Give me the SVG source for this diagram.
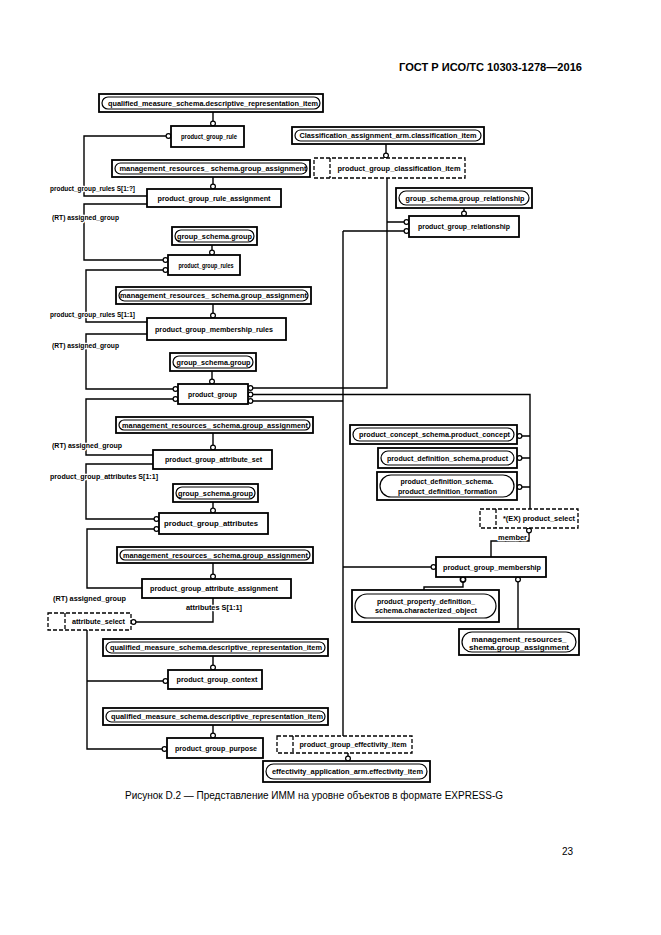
<svg xmlns="http://www.w3.org/2000/svg" width="661" height="935" viewBox="0 0 661 935">
<style>
.bg{fill:#fff}
.e{fill:#fff;stroke:#000;stroke-width:1.8}
.p{fill:none;stroke:#000;stroke-width:1.2}
.s{fill:#fff;stroke:#000;stroke-width:1.3;stroke-dasharray:4 2}
.sd{fill:none;stroke:#000;stroke-width:1.3;stroke-dasharray:4 2}
.c{fill:none;stroke:#000;stroke-width:1.4}
.o{fill:#fff;stroke:#000;stroke-width:1.2}
text{font-family:"Liberation Sans",Arial,sans-serif;font-size:7px;font-weight:bold;fill:#000}
.m{text-anchor:middle}
.l{stroke:#fff;stroke-width:2.5;paint-order:stroke;stroke-linejoin:round}
.h{font-size:11px;text-anchor:end}
.cap{font-size:10px;font-weight:normal}
</style>
<rect class="bg" width="661" height="935"/>
<text class="h" x="582" y="71" textLength="183" lengthAdjust="spacingAndGlyphs">ГОСТ Р ИСО/ТС 10303-1278—2016</text>

<g id="connectors">
<path class="c" d="M213,112V121M386,144V153M213,177V184M464,208V211M212,245V250M213,304V313M212,371V379M213,433V445M213,502V508M213,563V574M213,656V665M213,725V733M348,753V756"/>
<path class="c" d="M166,136H84V196H147M147,204H84V260H163M163,270H86V322H147M147,334H86V389H173M173,399H86V455H153M153,464H86V519H154M154,529H87V588H142M213,598V622H136M87,630V749H162M87,681H163"/>
<path class="c" d="M253,388H387V178M387,222H404M253,394.5H530V509M253,401H343M343,231V736M343,231H404M343,567H431M522,436H530M522,458H530M522,487H530M529,533V541H491V557M463,582V587H424V590M518,582V629"/>
<g>
<circle class="o" cx="213" cy="123.5" r="2.4"/>
<circle class="o" cx="386" cy="155.5" r="2.4"/>
<circle class="o" cx="213" cy="186.5" r="2.4"/>
<circle class="o" cx="464" cy="213.5" r="2.4"/>
<circle class="o" cx="212" cy="252.5" r="2.4"/>
<circle class="o" cx="213" cy="315.5" r="2.4"/>
<circle class="o" cx="212" cy="381.5" r="2.4"/>
<circle class="o" cx="213" cy="447.5" r="2.4"/>
<circle class="o" cx="213" cy="510.5" r="2.4"/>
<circle class="o" cx="213" cy="576.5" r="2.4"/>
<circle class="o" cx="213" cy="667.5" r="2.4"/>
<circle class="o" cx="213" cy="735.5" r="2.4"/>
<circle class="o" cx="348" cy="758.5" r="2.4"/>
<circle class="o" cx="168.5" cy="136" r="2.4"/>
<circle class="o" cx="165.5" cy="260" r="2.4"/>
<circle class="o" cx="165.5" cy="270" r="2.4"/>
<circle class="o" cx="175.5" cy="389" r="2.4"/>
<circle class="o" cx="175.5" cy="399" r="2.4"/>
<circle class="o" cx="156.5" cy="519" r="2.4"/>
<circle class="o" cx="156.5" cy="529" r="2.4"/>
<circle class="o" cx="133.5" cy="622" r="2.4"/>
<circle class="o" cx="164.5" cy="749" r="2.4"/>
<circle class="o" cx="165.5" cy="681" r="2.4"/>
<circle class="o" cx="250.5" cy="388" r="2.3"/>
<circle class="o" cx="250.5" cy="394.5" r="2.3"/>
<circle class="o" cx="250.5" cy="401" r="2.3"/>
<circle class="o" cx="406.5" cy="222" r="2.4"/>
<circle class="o" cx="406.5" cy="231" r="2.4"/>
<circle class="o" cx="433.5" cy="567" r="2.4"/>
<circle class="o" cx="519.5" cy="436" r="2.4"/>
<circle class="o" cx="519.5" cy="458" r="2.4"/>
<circle class="o" cx="519.5" cy="487" r="2.4"/>
<circle class="o" cx="529" cy="530.5" r="2.4"/>
<circle class="o" cx="463" cy="579.5" r="2.6" style="stroke-width:1.6"/>
<circle class="o" cx="518" cy="579.5" r="2.4"/>
</g>
<text class="l" x="50" y="191" textLength="85" lengthAdjust="spacingAndGlyphs">product_group_rules S[1:?]</text>
<text class="l" x="52" y="220" textLength="67" lengthAdjust="spacingAndGlyphs">(RT) assigned_group</text>
<text class="l" x="50" y="316.5" textLength="85" lengthAdjust="spacingAndGlyphs">product_group_rules S[1:1]</text>
<text class="l" x="52" y="348" textLength="67" lengthAdjust="spacingAndGlyphs">(RT) assigned_group</text>
<text class="l" x="52" y="447.5" textLength="70" lengthAdjust="spacingAndGlyphs">(RT) assigned_group</text>
<text class="l" x="50" y="478.5" textLength="108" lengthAdjust="spacingAndGlyphs">product_group_attributes S[1:1]</text>
<text class="l" x="53" y="600.5" textLength="73" lengthAdjust="spacingAndGlyphs">(RT) assigned_group</text>
<text class="l" x="186" y="609.5" textLength="56" lengthAdjust="spacingAndGlyphs">attributes S[1:1]</text>
<text class="l" x="498" y="539.5" textLength="29" lengthAdjust="spacingAndGlyphs">member</text>
</g>

<g id="qmsdri_1"><rect class="e" x="99" y="94" width="224" height="18"/><rect class="p" x="102" y="97" width="218" height="12" rx="6"/><text class="m" x="213" y="105.5" textLength="210" lengthAdjust="spacingAndGlyphs">qualified_measure_schema.descriptive_representation_item</text></g>
<g id="product_group_rule"><rect class="e" x="171" y="126" width="73" height="21"/><text class="m" x="209" y="139" textLength="56" lengthAdjust="spacingAndGlyphs">product_group_rule</text></g>
<g id="classification_item"><rect class="e" x="292" y="127" width="192" height="17"/><rect class="p" x="295" y="130" width="186" height="11" rx="5.5"/><text class="m" x="388" y="138" textLength="177" lengthAdjust="spacingAndGlyphs">Classification_assignment_arm.classification_item</text></g>
<g id="product_group_classification_item"><rect class="s" x="314" y="158" width="151" height="20"/><path class="sd" d="M330,158V178"/><text class="m" x="399" y="170.5" textLength="123" lengthAdjust="spacingAndGlyphs">product_group_classification_item</text></g>
<g id="mgmt_1"><rect class="e" x="112" y="160" width="198" height="17"/><rect class="p" x="115" y="163" width="192" height="11" rx="5.5"/><text class="m" x="213" y="171" textLength="187" lengthAdjust="spacingAndGlyphs">management_resources_ schema.group_assignment</text></g>
<g id="product_group_rule_assignment"><rect class="e" x="147" y="189" width="134" height="18"/><text class="m" x="214" y="200.5" textLength="113" lengthAdjust="spacingAndGlyphs">product_group_rule_assignment</text></g>
<g id="group_relationship"><rect class="e" x="396" y="188" width="136" height="20"/><rect class="p" x="399" y="191" width="130" height="14" rx="7"/><text class="m" x="465" y="200.5" textLength="119" lengthAdjust="spacingAndGlyphs">group_schema.group_relationship</text></g>
<g id="product_group_relationship"><rect class="e" x="409" y="216" width="110" height="21"/><text class="m" x="464" y="229" textLength="92" lengthAdjust="spacingAndGlyphs">product_group_relationship</text></g>
<g id="group_1"><rect class="e" x="172" y="227" width="85" height="18"/><rect class="p" x="175" y="230" width="79" height="12" rx="6"/><text class="m" x="214.5" y="238.5" textLength="75" lengthAdjust="spacingAndGlyphs">group_schema.group</text></g>
<g id="product_group_rules"><rect class="e" x="168" y="255" width="72" height="20"/><text class="m" x="206" y="267.5" textLength="55" lengthAdjust="spacingAndGlyphs">product_group_rules</text></g>
<g id="mgmt_2"><rect class="e" x="116" y="287" width="195" height="17"/><rect class="p" x="119" y="290" width="189" height="11" rx="5.5"/><text class="m" x="213.5" y="298" textLength="187" lengthAdjust="spacingAndGlyphs">management_resources_ schema.group_assignment</text></g>
<g id="product_group_membership_rules"><rect class="e" x="147" y="318" width="139" height="22"/><text class="m" x="214" y="331.5" textLength="118" lengthAdjust="spacingAndGlyphs">product_group_membership_rules</text></g>
<g id="group_2"><rect class="e" x="170" y="353" width="86" height="18"/><rect class="p" x="173" y="356" width="80" height="12" rx="6"/><text class="m" x="213.5" y="364.5" textLength="74" lengthAdjust="spacingAndGlyphs">group_schema.group</text></g>
<g id="product_group"><rect class="e" x="178" y="384" width="70" height="20"/><text class="m" x="212.5" y="396.5" textLength="49" lengthAdjust="spacingAndGlyphs">product_group</text></g>
<g id="mgmt_3"><rect class="e" x="116" y="417" width="197" height="16"/><rect class="p" x="119" y="420" width="191" height="10" rx="5"/><text class="m" x="215" y="427.5" textLength="186" lengthAdjust="spacingAndGlyphs">management_resources_ schema.group_assignment</text></g>
<g id="product_group_attribute_set"><rect class="e" x="153" y="450" width="119" height="19"/><text class="m" x="213.5" y="462" textLength="97" lengthAdjust="spacingAndGlyphs">product_group_attribute_set</text></g>
<g id="group_3"><rect class="e" x="173" y="484" width="85" height="18"/><rect class="p" x="176" y="487" width="79" height="12" rx="6"/><text class="m" x="215.5" y="495.5" textLength="75" lengthAdjust="spacingAndGlyphs">group_schema.group</text></g>
<g id="product_group_attributes"><rect class="e" x="159" y="513" width="109" height="21"/><text class="m" x="211" y="526" textLength="94" lengthAdjust="spacingAndGlyphs">product_group_attributes</text></g>
<g id="mgmt_4"><rect class="e" x="117" y="547" width="196" height="16"/><rect class="p" x="120" y="550" width="190" height="10" rx="5"/><text class="m" x="215.5" y="557.5" textLength="185" lengthAdjust="spacingAndGlyphs">management_resources_ schema.group_assignment</text></g>
<g id="product_group_attribute_assignment"><rect class="e" x="142" y="579" width="149" height="19"/><text class="m" x="214" y="591" textLength="128" lengthAdjust="spacingAndGlyphs">product_group_attribute_assignment</text></g>
<g id="attribute_select"><rect class="s" x="48" y="613" width="83" height="17"/><path class="sd" d="M65,613V630"/><text class="m" x="98.5" y="624" textLength="53" lengthAdjust="spacingAndGlyphs">attribute_select</text></g>
<g id="qmsdri_2"><rect class="e" x="103" y="639" width="225" height="17"/><rect class="p" x="106" y="642" width="219" height="11" rx="5.5"/><text class="m" x="216" y="650" textLength="212" lengthAdjust="spacingAndGlyphs">qualified_measure_schema.descriptive_representation_item</text></g>
<g id="product_group_context"><rect class="e" x="168" y="670" width="94" height="19"/><text class="m" x="217" y="682" textLength="81" lengthAdjust="spacingAndGlyphs">product_group_context</text></g>
<g id="qmsdri_3"><rect class="e" x="103" y="708" width="225" height="17"/><rect class="p" x="106" y="711" width="219" height="11" rx="5.5"/><text class="m" x="217" y="719" textLength="212" lengthAdjust="spacingAndGlyphs">qualified_measure_schema.descriptive_representation_item</text></g>
<g id="product_group_purpose"><rect class="e" x="167" y="738" width="96" height="20"/><text class="m" x="216" y="750.5" textLength="82" lengthAdjust="spacingAndGlyphs">product_group_purpose</text></g>
<g id="product_group_effectivity_item"><rect class="s" x="277" y="736" width="135" height="17"/><path class="sd" d="M293,736V753"/><text class="m" x="353" y="747" textLength="107" lengthAdjust="spacingAndGlyphs">product_group_effectivity_item</text></g>
<g id="effectivity_item"><rect class="e" x="263" y="761" width="167" height="21"/><rect class="p" x="266" y="764" width="161" height="15" rx="7.5"/><text class="m" x="347.5" y="774" textLength="151" lengthAdjust="spacingAndGlyphs">effectivity_application_arm.effectivity_item</text></g>
<g id="product_concept"><rect class="e" x="350" y="425" width="167" height="19"/><rect class="p" x="353" y="428" width="161" height="13" rx="6.5"/><text class="m" x="434.5" y="437" textLength="151" lengthAdjust="spacingAndGlyphs">product_concept_schema.product_concept</text></g>
<g id="product"><rect class="e" x="378" y="448" width="139" height="20"/><rect class="p" x="381" y="451" width="133" height="14" rx="7"/><text class="m" x="447.5" y="460.5" textLength="121" lengthAdjust="spacingAndGlyphs">product_definition_schema.product</text></g>
<g id="product_definition_formation"><rect class="e" x="377" y="472" width="140" height="28"/><rect class="p" x="380" y="475" width="134" height="22" rx="11"/><text class="m" x="447" y="484" textLength="93" lengthAdjust="spacingAndGlyphs">product_definition_schema.</text><text class="m" x="447.5" y="493.5" textLength="99" lengthAdjust="spacingAndGlyphs">product_definition_formation</text></g>
<g id="product_select"><rect class="s" x="480" y="509" width="98" height="19"/><path class="sd" d="M496,509V528"/><text class="m" x="539" y="521" textLength="72" lengthAdjust="spacingAndGlyphs">*(EX) product_select</text></g>
<g id="product_group_membership"><rect class="e" x="436" y="557" width="110" height="20"/><text class="m" x="492" y="569.5" textLength="98" lengthAdjust="spacingAndGlyphs">product_group_membership</text></g>
<g id="characterized_object"><rect class="e" x="352" y="590" width="147" height="32"/><rect class="p" x="355" y="594" width="141" height="24" rx="12"/><text class="m" x="426" y="604" textLength="98" lengthAdjust="spacingAndGlyphs">product_property_definition_</text><text class="m" x="426" y="612.5" textLength="102" lengthAdjust="spacingAndGlyphs">schema.characterized_object</text></g>
<g id="mgmt_5"><rect class="e" x="459" y="629" width="120" height="26"/><rect class="p" x="462" y="632" width="114" height="20" rx="10"/><text class="m" x="519" y="642" textLength="95" lengthAdjust="spacingAndGlyphs">management_resources_</text><text class="m" x="519" y="650.3" textLength="100" lengthAdjust="spacingAndGlyphs">shema.group_assignment</text></g>

<text class="cap" x="125" y="798.5" textLength="378" lengthAdjust="spacingAndGlyphs">Рисунок D.2 — Представление ИММ на уровне объектов в формате EXPRESS-G</text>
<text class="cap" x="562" y="855">23</text>
</svg>
